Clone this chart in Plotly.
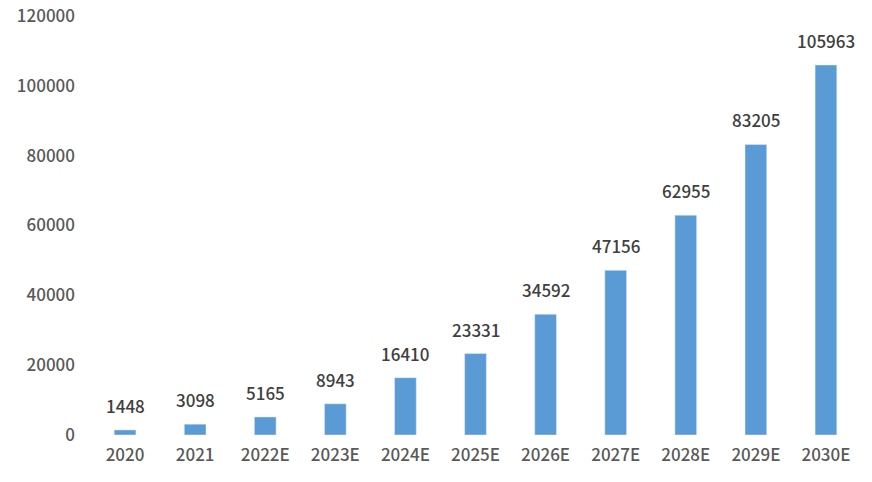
import plotly.graph_objects as go

years = ["2020", "2021", "2022E", "2023E", "2024E", "2025E", "2026E", "2027E", "2028E", "2029E", "2030E"]
values = [1448, 3098, 5165, 8943, 16410, 23331, 34592, 47156, 62955, 83205, 105963]

fig = go.Figure()
fig.add_trace(go.Bar(x=years, y=values, marker_color="#5B9BD5", hoverinfo="skip"))

# category axis: annotate by category index
for i, v in enumerate(values):
    fig.add_annotation(
        x=i, y=v, text=str(v), showarrow=False, yanchor="bottom", yshift=10,
        font=dict(size=17, color="#404040", family="Noto Sans CJK SC", weight=500),
    )

fig.update_layout(
    width=872,
    height=482,
    margin=dict(l=82, r=19, t=8, b=55, autoexpand=False),
    plot_bgcolor="white",
    paper_bgcolor="white",
    bargap=0.69,
    showlegend=False,
    font=dict(family="Noto Sans CJK SC", size=17, color="#595959", weight=500),
)
fig.update_yaxes(range=[0, 120000], dtick=20000, tickformat="d", showgrid=False,
                 zeroline=False, ticks="", ticklabelstandoff=14, automargin=False,
                 ticklabeloverflow="allow")
fig.update_xaxes(type="category", showline=False, ticks="", ticklabelstandoff=8,
                 automargin=False)

fig.write_html("out.html")
